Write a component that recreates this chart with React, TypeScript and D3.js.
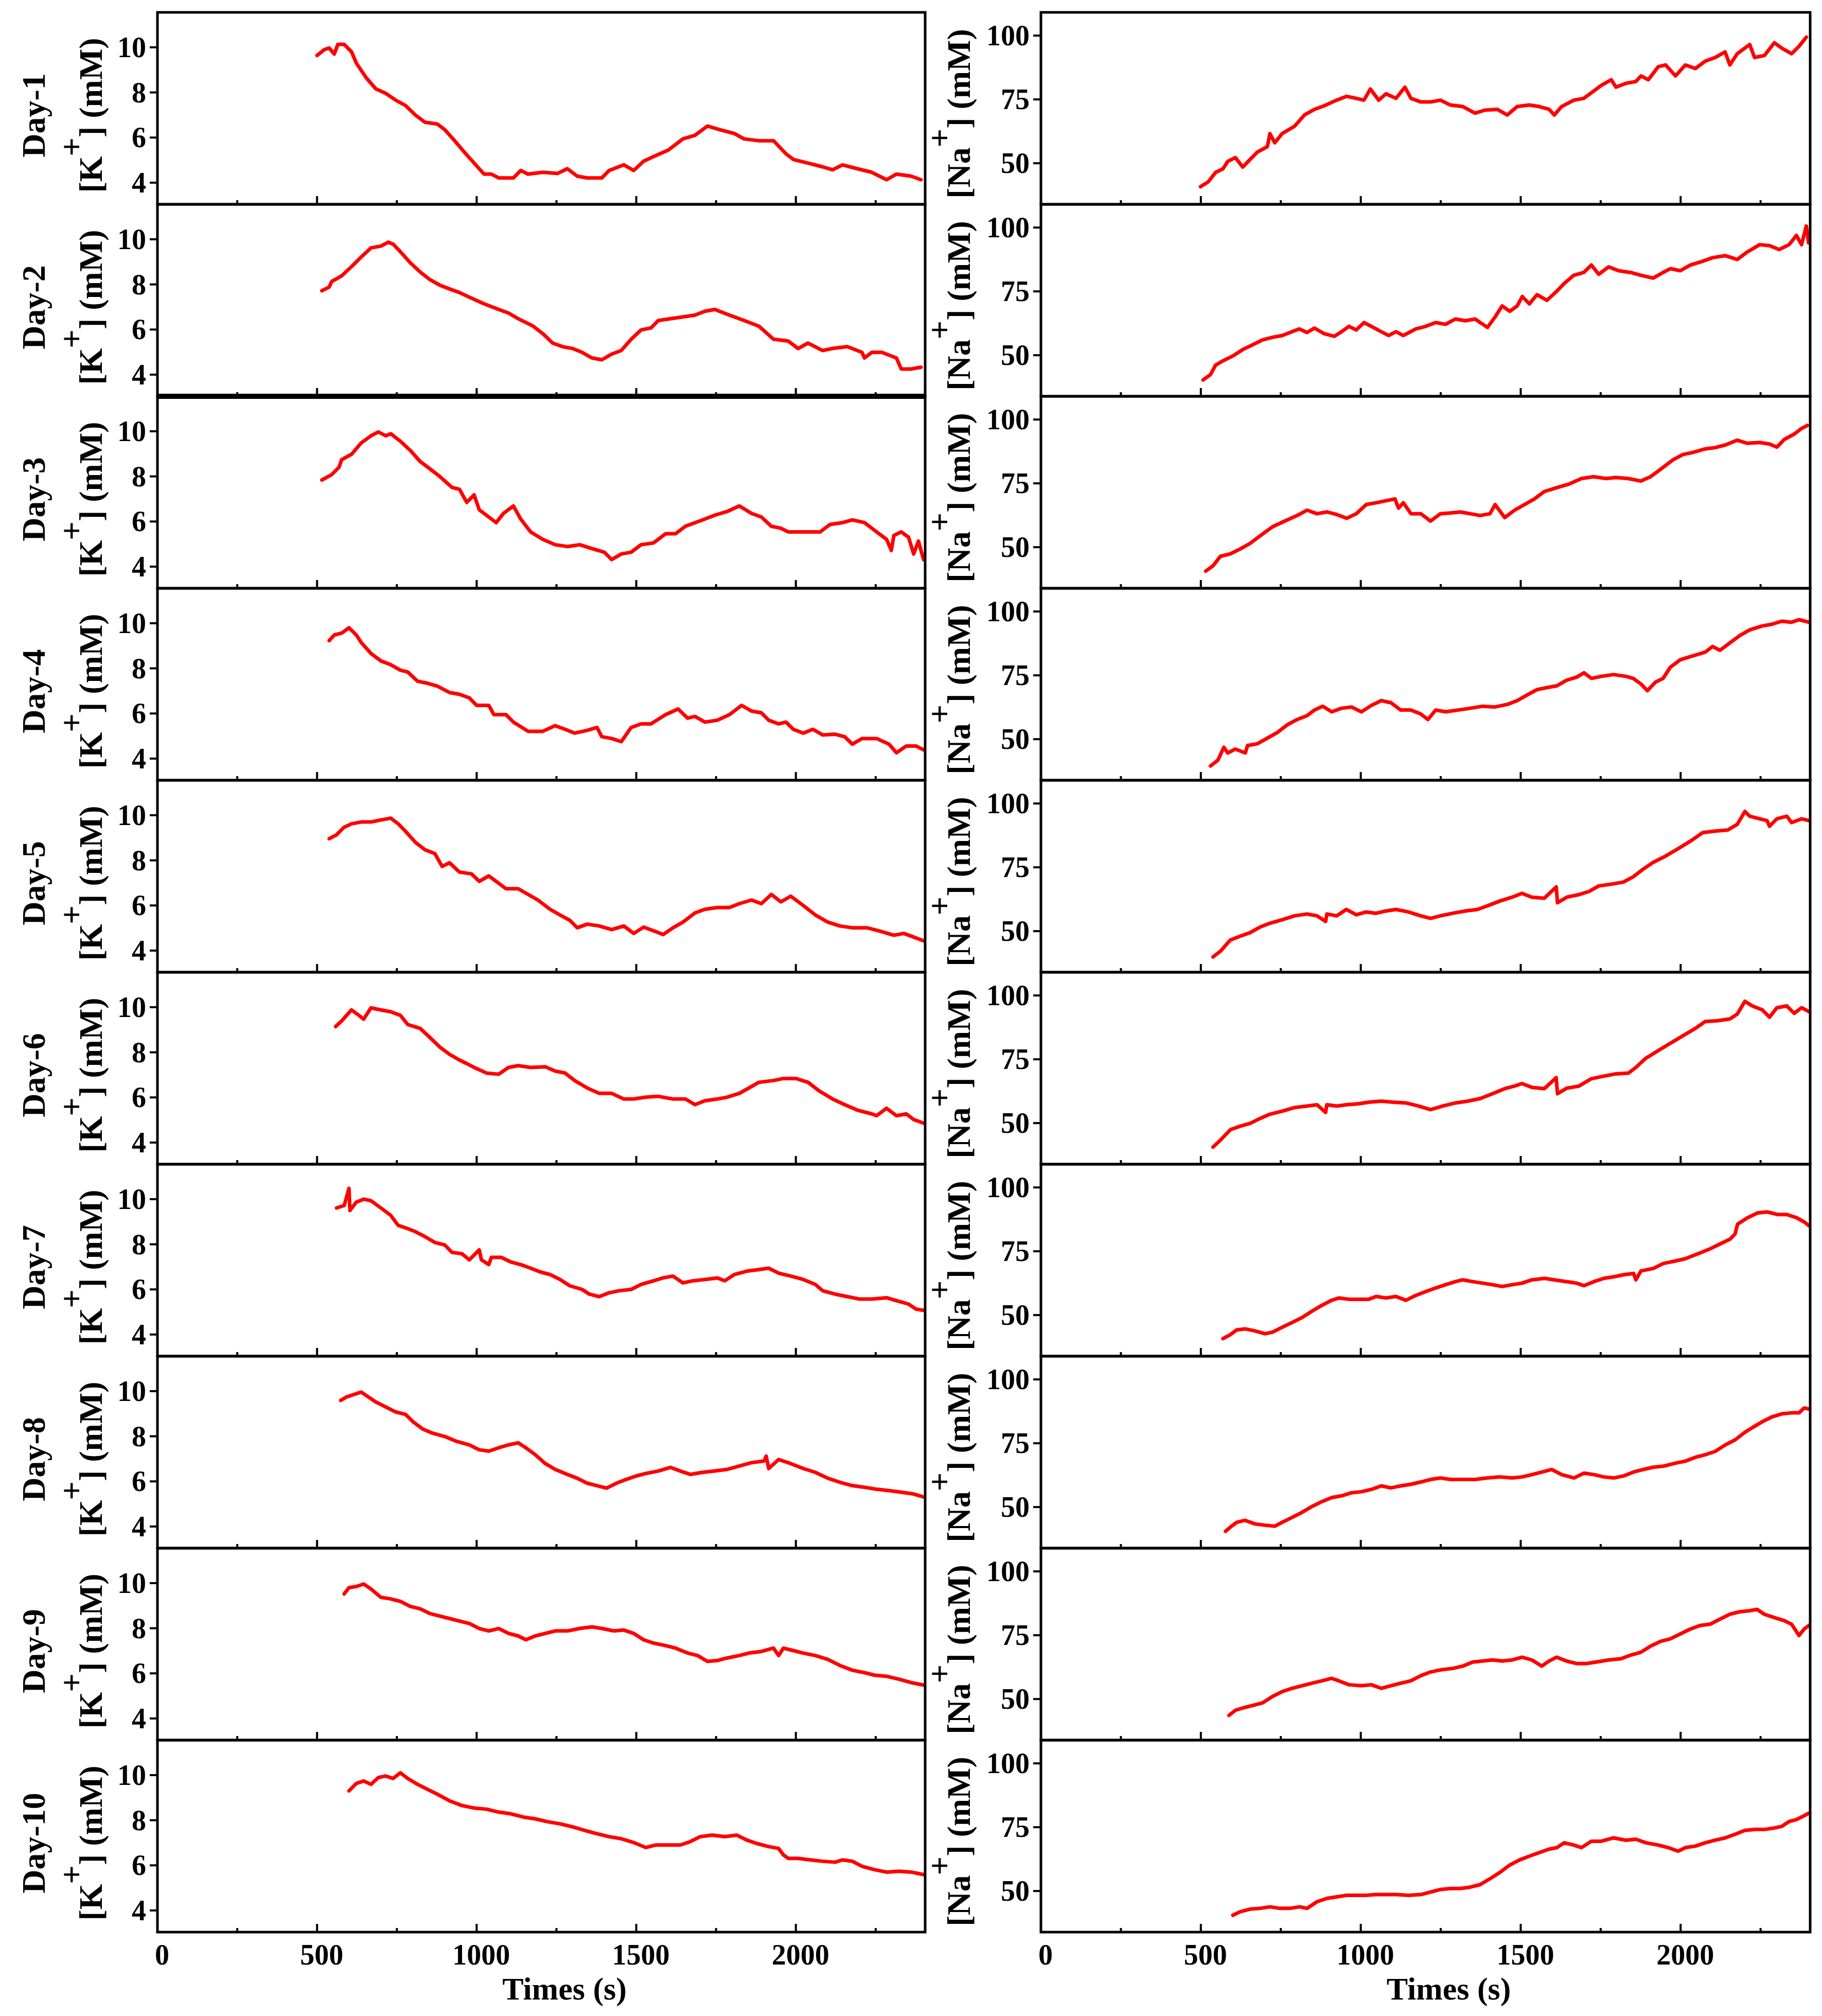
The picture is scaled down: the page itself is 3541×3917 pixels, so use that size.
import React from 'react';
import * as d3 from 'd3';

type Pt = [number, number];

const DAYS = ['Day-1', 'Day-2', 'Day-3', 'Day-4', 'Day-5', 'Day-6', 'Day-7', 'Day-8', 'Day-9', 'Day-10'];
const X_TICKS = [0, 500, 1000, 1500, 2000];
const X_MINOR = [250, 750, 1250, 1750, 2250];
const K_TICKS = [4, 6, 8, 10];
const NA_TICKS = [50, 75, 100];
const X_TITLE = 'Times (s)';

// ---------- [K+] series (time s, mM) ----------
const K1: Pt[] = [[500,9.64],[523,9.9],[538,9.97],[554,9.7],[565,10.13],[585,10.13],[608,9.8],[623,9.3],[654,8.65],[684,8.16],[715,7.96],[746,7.66],[777,7.42],[808,7.0],[838,6.68],[877,6.6],[900,6.35],[931,5.86],[961,5.36],[992,4.87],[1023,4.38],[1046,4.38],[1069,4.21],[1115,4.21],[1138,4.54],[1161,4.38],[1207,4.46],[1254,4.41],[1284,4.62],[1315,4.29],[1346,4.21],[1392,4.21],[1415,4.54],[1461,4.79],[1492,4.54],[1523,4.95],[1561,5.2],[1600,5.44],[1646,5.94],[1684,6.1],[1723,6.51],[1761,6.35],[1807,6.18],[1838,5.94],[1884,5.86],[1930,5.86],[1969,5.28],[1992,5.03],[2038,4.87],[2084,4.7],[2115,4.57],[2146,4.79],[2192,4.62],[2238,4.46],[2284,4.13],[2315,4.38],[2361,4.29],[2392,4.13]];
const K2: Pt[] = [[515,7.72],[538,7.88],[546,8.13],[577,8.38],[608,8.79],[638,9.21],[669,9.62],[700,9.7],[723,9.87],[738,9.79],[761,9.45],[792,8.96],[823,8.55],[854,8.21],[884,7.97],[915,7.8],[946,7.64],[984,7.39],[1023,7.14],[1069,6.89],[1100,6.73],[1130,6.48],[1177,6.15],[1207,5.82],[1238,5.4],[1269,5.24],[1300,5.16],[1330,4.99],[1361,4.74],[1392,4.66],[1423,4.91],[1453,5.07],[1484,5.57],[1515,5.98],[1546,6.07],[1569,6.4],[1607,6.48],[1646,6.56],[1684,6.64],[1715,6.81],[1746,6.89],[1792,6.64],[1838,6.4],[1884,6.15],[1930,5.57],[1976,5.49],[2007,5.16],[2038,5.4],[2084,5.07],[2115,5.16],[2161,5.24],[2207,4.99],[2215,4.74],[2238,4.99],[2269,4.99],[2315,4.74],[2330,4.25],[2361,4.25],[2392,4.33]];
const K3: Pt[] = [[515,7.84],[546,8.08],[569,8.41],[577,8.74],[608,8.98],[638,9.48],[669,9.8],[692,9.97],[715,9.8],[731,9.89],[761,9.56],[792,9.15],[823,8.66],[854,8.33],[884,8.0],[923,7.51],[946,7.43],[969,6.85],[992,7.18],[1008,6.52],[1038,6.2],[1061,5.95],[1084,6.36],[1115,6.69],[1138,6.11],[1169,5.54],[1207,5.21],[1246,4.97],[1284,4.89],[1323,4.97],[1361,4.8],[1400,4.64],[1423,4.31],[1453,4.56],[1484,4.64],[1515,4.97],[1554,5.05],[1592,5.46],[1623,5.46],[1654,5.79],[1700,6.03],[1746,6.28],[1784,6.44],[1823,6.69],[1861,6.36],[1892,6.2],[1923,5.79],[1953,5.7],[1976,5.54],[2023,5.54],[2076,5.54],[2107,5.87],[2146,5.95],[2177,6.07],[2215,5.95],[2253,5.54],[2284,5.21],[2299,4.72],[2307,5.38],[2330,5.54],[2353,5.3],[2369,4.56],[2384,5.13],[2400,4.31]];
const K4: Pt[] = [[538,9.23],[554,9.48],[577,9.56],[600,9.8],[623,9.48],[638,9.15],[669,8.66],[700,8.33],[731,8.16],[761,7.92],[784,7.84],[815,7.43],[846,7.34],[877,7.21],[915,6.93],[946,6.85],[977,6.69],[1000,6.36],[1038,6.36],[1054,5.95],[1092,5.95],[1115,5.62],[1161,5.21],[1207,5.21],[1246,5.46],[1277,5.3],[1307,5.13],[1346,5.25],[1377,5.38],[1392,4.97],[1423,4.89],[1453,4.75],[1484,5.38],[1515,5.54],[1546,5.54],[1592,5.95],[1631,6.2],[1661,5.79],[1684,5.87],[1715,5.62],[1754,5.7],[1792,5.95],[1830,6.36],[1861,6.11],[1892,6.03],[1915,5.7],[1946,5.54],[1969,5.62],[1992,5.3],[2023,5.13],[2053,5.3],[2084,5.05],[2123,5.08],[2153,4.97],[2177,4.64],[2207,4.89],[2253,4.89],[2292,4.64],[2315,4.26],[2346,4.56],[2376,4.56],[2400,4.39]];
const K5: Pt[] = [[538,8.96],[561,9.13],[584,9.46],[608,9.62],[638,9.7],[669,9.7],[700,9.79],[731,9.87],[754,9.62],[777,9.29],[808,8.8],[838,8.47],[869,8.3],[892,7.73],[915,7.89],[946,7.48],[984,7.4],[1008,7.07],[1038,7.31],[1061,7.07],[1092,6.74],[1130,6.74],[1161,6.49],[1192,6.24],[1230,5.83],[1261,5.58],[1292,5.34],[1315,5.01],[1346,5.17],[1384,5.09],[1423,4.93],[1461,5.09],[1492,4.76],[1523,5.04],[1561,4.84],[1584,4.71],[1615,5.01],[1646,5.26],[1684,5.67],[1715,5.83],[1754,5.91],[1792,5.91],[1823,6.08],[1861,6.24],[1892,6.08],[1923,6.49],[1953,6.16],[1984,6.41],[2023,6.0],[2061,5.58],[2100,5.26],[2138,5.09],[2177,5.01],[2223,5.01],[2269,4.84],[2307,4.68],[2338,4.76],[2369,4.6],[2400,4.43]];
const K6: Pt[] = [[558,9.14],[577,9.39],[608,9.88],[631,9.64],[646,9.47],[669,9.97],[700,9.88],[731,9.8],[761,9.64],[784,9.23],[823,9.06],[854,8.65],[884,8.24],[915,7.91],[946,7.66],[969,7.5],[992,7.33],[1031,7.08],[1069,7.03],[1100,7.33],[1130,7.41],[1169,7.33],[1215,7.36],[1246,7.17],[1277,7.08],[1307,6.75],[1346,6.42],[1384,6.18],[1423,6.18],[1461,5.93],[1492,5.93],[1530,6.01],[1569,6.05],[1615,5.93],[1654,5.93],[1684,5.68],[1715,5.85],[1754,5.93],[1784,6.01],[1823,6.18],[1853,6.42],[1884,6.67],[1930,6.75],[1961,6.84],[2000,6.84],[2038,6.67],[2076,6.26],[2115,5.93],[2153,5.68],[2192,5.44],[2238,5.27],[2253,5.19],[2284,5.52],[2315,5.19],[2346,5.27],[2369,5.02],[2400,4.86]];
const K7: Pt[] = [[561,9.61],[585,9.72],[600,10.48],[603,9.5],[623,9.87],[646,10.0],[669,9.93],[700,9.61],[731,9.28],[754,8.84],[777,8.73],[808,8.56],[838,8.34],[869,8.08],[900,7.97],[923,7.64],[954,7.58],[977,7.31],[1008,7.75],[1015,7.31],[1038,7.1],[1046,7.42],[1077,7.42],[1108,7.21],[1138,7.1],[1169,6.94],[1200,6.77],[1230,6.66],[1261,6.44],[1292,6.16],[1330,6.0],[1353,5.79],[1384,5.68],[1415,5.85],[1446,5.94],[1484,6.0],[1515,6.22],[1554,6.38],[1584,6.51],[1615,6.59],[1646,6.29],[1677,6.38],[1715,6.44],[1754,6.51],[1777,6.38],[1807,6.66],[1846,6.81],[1884,6.88],[1915,6.94],[1946,6.72],[1984,6.59],[2023,6.44],[2061,6.22],[2084,5.94],[2123,5.79],[2161,5.68],[2200,5.57],[2238,5.57],[2284,5.63],[2315,5.5],[2353,5.35],[2376,5.13],[2400,5.07]];
const K8: Pt[] = [[574,9.59],[592,9.74],[615,9.85],[638,9.96],[661,9.74],[684,9.52],[715,9.3],[746,9.08],[777,8.97],[800,8.65],[831,8.32],[861,8.14],[900,7.99],[938,7.77],[977,7.62],[1008,7.4],[1038,7.34],[1069,7.49],[1100,7.62],[1130,7.71],[1154,7.49],[1184,7.18],[1215,6.79],[1246,6.53],[1284,6.31],[1315,6.14],[1346,5.92],[1377,5.81],[1407,5.7],[1438,5.92],[1469,6.09],[1500,6.24],[1530,6.35],[1569,6.46],[1607,6.62],[1638,6.46],[1669,6.31],[1707,6.4],[1746,6.46],[1784,6.53],[1823,6.68],[1861,6.83],[1900,6.9],[1907,7.12],[1915,6.57],[1946,6.97],[1984,6.79],[2023,6.57],[2061,6.4],[2100,6.14],[2138,5.96],[2177,5.81],[2215,5.74],[2253,5.65],[2292,5.59],[2330,5.52],[2369,5.44],[2400,5.31]];
const K9: Pt[] = [[585,9.52],[600,9.8],[623,9.85],[646,9.96],[669,9.74],[700,9.37],[731,9.3],[761,9.19],[792,8.97],[823,8.86],[854,8.65],[884,8.54],[915,8.43],[946,8.32],[977,8.21],[1008,7.99],[1038,7.88],[1069,7.99],[1100,7.77],[1130,7.66],[1154,7.49],[1184,7.66],[1215,7.77],[1246,7.88],[1284,7.88],[1323,7.99],[1361,8.06],[1392,7.99],[1430,7.88],[1461,7.92],[1492,7.77],[1523,7.49],[1554,7.34],[1592,7.23],[1623,7.12],[1661,6.9],[1692,6.79],[1723,6.53],[1754,6.57],[1784,6.68],[1823,6.79],[1853,6.9],[1892,6.97],[1930,7.12],[1946,6.79],[1961,7.12],[1992,7.01],[2023,6.9],[2061,6.79],[2100,6.62],[2138,6.35],[2177,6.14],[2215,6.03],[2246,5.92],[2284,5.87],[2323,5.74],[2361,5.59],[2400,5.48]];
const K10: Pt[] = [[600,9.3],[623,9.63],[646,9.74],[669,9.59],[692,9.89],[715,9.96],[738,9.85],[761,10.1],[784,9.85],[815,9.59],[846,9.37],[877,9.15],[915,8.86],[954,8.65],[992,8.54],[1031,8.49],[1069,8.36],[1108,8.28],[1146,8.14],[1184,8.06],[1223,7.93],[1261,7.84],[1300,7.71],[1338,7.55],[1377,7.4],[1415,7.27],[1453,7.18],[1492,7.01],[1530,6.79],[1561,6.9],[1600,6.9],[1638,6.9],[1669,7.05],[1700,7.27],[1738,7.34],[1777,7.27],[1815,7.34],[1846,7.12],[1877,6.97],[1915,6.83],[1946,6.75],[1961,6.46],[1976,6.31],[2007,6.31],[2046,6.24],[2084,6.18],[2123,6.14],[2146,6.24],[2177,6.18],[2207,5.96],[2246,5.81],[2284,5.7],[2323,5.74],[2361,5.7],[2400,5.59]];

// ---------- [Na+] series (time s, mM) ----------
const NA1: Pt[] = [[499,40.8],[523,42.7],[546,46.4],[569,47.8],[584,50.7],[608,52.2],[631,48.5],[654,51.5],[677,54.4],[708,56.5],[716,61.6],[731,58.0],[754,61.6],[793,64.5],[824,68.9],[855,71.1],[886,72.5],[917,74.3],[955,76.2],[986,75.4],[1010,74.7],[1030,79.1],[1056,74.7],[1079,77.2],[1110,75.4],[1138,79.8],[1157,75.4],[1188,74.0],[1218,74.0],[1249,74.7],[1280,72.8],[1319,72.2],[1357,69.6],[1388,70.8],[1427,71.1],[1458,68.9],[1489,72.2],[1527,72.8],[1558,72.2],[1589,71.1],[1605,68.9],[1628,72.2],[1666,74.7],[1697,75.4],[1721,77.6],[1752,80.5],[1783,82.7],[1798,79.8],[1829,81.3],[1860,82.0],[1876,84.2],[1899,82.7],[1930,87.8],[1953,88.5],[1984,84.2],[2015,88.5],[2046,87.1],[2077,90.0],[2108,91.4],[2139,93.6],[2154,88.5],[2177,92.9],[2216,96.5],[2231,91.4],[2262,92.2],[2293,97.2],[2316,95.1],[2347,92.9],[2370,95.8],[2393,99.4]];
const NA2: Pt[] = [[507,40.3],[530,42.4],[546,46.1],[569,47.8],[600,49.7],[631,52.2],[662,54.1],[693,56.0],[724,57.0],[754,57.7],[785,59.2],[808,60.3],[832,58.9],[855,60.6],[886,58.4],[917,57.4],[940,59.2],[963,61.3],[986,59.9],[1010,62.8],[1033,61.3],[1064,59.2],[1087,57.7],[1110,59.2],[1133,57.7],[1172,60.3],[1203,61.3],[1234,62.8],[1265,62.1],[1296,64.2],[1327,63.5],[1358,64.2],[1373,62.8],[1396,60.9],[1420,65.0],[1442,69.3],[1466,67.2],[1489,69.3],[1505,73.0],[1527,70.1],[1551,73.7],[1582,71.5],[1613,75.1],[1636,78.1],[1666,81.3],[1697,82.4],[1721,85.3],[1744,81.7],[1775,84.6],[1806,83.1],[1844,82.4],[1876,81.3],[1914,80.2],[1945,82.4],[1968,83.9],[1999,83.1],[2030,85.3],[2069,86.8],[2100,88.2],[2139,89.0],[2177,87.5],[2208,90.4],[2247,93.3],[2278,92.9],[2308,91.4],[2339,93.3],[2362,96.9],[2378,93.3],[2393,100.6],[2400,94.0]];
const NA3: Pt[] = [[515,40.6],[538,42.7],[561,46.4],[592,47.4],[623,49.3],[654,51.5],[685,54.4],[724,58.0],[762,60.2],[801,62.4],[832,64.5],[863,63.1],[894,63.8],[925,62.8],[956,61.3],[986,63.1],[1017,66.7],[1048,67.4],[1079,68.2],[1107,68.9],[1118,65.3],[1133,67.4],[1157,63.1],[1188,63.1],[1218,60.2],[1249,63.1],[1280,63.4],[1311,63.8],[1342,63.1],[1373,62.4],[1404,63.1],[1420,66.7],[1450,61.6],[1481,64.5],[1512,66.7],[1543,68.9],[1574,71.8],[1612,73.3],[1651,74.7],[1690,76.9],[1728,77.6],[1767,76.9],[1798,77.3],[1836,76.9],[1875,75.9],[1906,77.6],[1937,80.5],[1976,84.2],[2007,86.3],[2038,87.1],[2077,88.5],[2108,89.0],[2139,90.0],[2177,91.9],[2208,90.7],[2247,91.0],[2278,90.4],[2301,89.2],[2324,92.2],[2355,94.3],[2378,96.5],[2396,97.7]];
const NA4: Pt[] = [[530,39.5],[553,41.7],[572,46.8],[584,44.6],[608,46.1],[639,44.6],[646,47.5],[677,48.2],[708,50.4],[739,52.6],[770,55.6],[801,57.7],[832,59.2],[855,61.4],[881,62.9],[909,60.7],[940,62.1],[971,62.6],[1002,60.7],[1033,63.2],[1064,65.1],[1094,64.3],[1125,61.4],[1156,61.4],[1187,59.9],[1210,57.7],[1234,61.4],[1265,60.7],[1304,61.4],[1342,62.1],[1381,62.9],[1419,62.6],[1458,63.6],[1489,65.1],[1520,67.3],[1551,69.4],[1582,70.2],[1613,70.9],[1644,73.1],[1675,74.3],[1698,76.0],[1721,73.8],[1752,74.6],[1790,75.3],[1829,74.6],[1852,73.8],[1876,71.6],[1896,69.0],[1922,72.4],[1945,73.8],[1968,78.2],[1999,81.1],[2038,82.6],[2077,84.1],[2100,86.3],[2123,84.8],[2154,87.7],[2185,90.6],[2216,92.8],[2254,94.3],[2285,95.0],[2316,96.2],[2347,95.8],[2370,96.8],[2401,95.8]];
const NA5: Pt[] = [[538,39.9],[561,42.1],[592,46.5],[623,48.0],[654,49.4],[685,51.6],[716,53.1],[755,54.5],[793,56.0],[832,56.7],[863,56.0],[890,53.8],[894,56.7],[925,56.0],[955,58.5],[986,56.4],[1017,57.5],[1048,57.0],[1079,57.9],[1110,58.5],[1149,57.5],[1187,56.0],[1218,55.0],[1249,56.0],[1288,57.0],[1327,57.9],[1365,58.5],[1396,59.9],[1435,61.8],[1473,63.3],[1504,64.8],[1535,63.3],[1574,62.9],[1611,67.3],[1615,61.1],[1644,63.3],[1682,64.3],[1713,65.5],[1744,67.7],[1783,68.4],[1821,69.2],[1852,71.3],[1883,74.3],[1914,76.9],[1953,79.4],[1992,82.3],[2030,85.2],[2069,88.6],[2108,89.2],[2147,89.6],[2177,91.8],[2201,96.9],[2216,95.0],[2247,94.0],[2270,93.3],[2278,91.1],[2301,94.0],[2332,95.0],[2347,92.5],[2378,94.0],[2401,93.3]];
const NA6: Pt[] = [[538,40.6],[561,43.3],[592,47.4],[623,48.8],[654,49.9],[685,51.8],[716,53.5],[755,54.7],[793,56.1],[832,56.7],[863,57.2],[890,54.2],[894,57.2],[925,56.7],[955,57.2],[994,57.6],[1025,58.2],[1064,58.6],[1102,58.2],[1141,57.9],[1180,56.7],[1218,55.3],[1257,56.7],[1296,57.9],[1334,58.6],[1373,59.6],[1412,61.5],[1450,63.5],[1481,64.5],[1504,65.5],[1535,64.0],[1574,63.5],[1611,67.8],[1615,61.5],[1644,63.7],[1682,64.5],[1721,67.4],[1760,68.4],[1798,69.3],[1837,69.6],[1860,71.8],[1891,75.4],[1930,78.4],[1968,81.3],[2007,84.2],[2046,87.1],[2077,89.8],[2115,90.1],[2154,90.8],[2177,92.7],[2201,97.7],[2224,95.9],[2255,94.4],[2278,91.5],[2301,95.2],[2332,95.9],[2355,93.0],[2378,95.2],[2401,93.7]];
const NA7: Pt[] = [[569,40.8],[592,42.3],[612,44.2],[638,44.6],[669,43.8],[700,42.7],[724,43.3],[754,45.2],[785,47.1],[816,49.0],[847,51.5],[878,53.8],[909,55.8],[932,56.7],[963,56.2],[994,56.2],[1025,56.2],[1048,57.3],[1079,56.7],[1110,57.3],[1141,55.8],[1172,57.7],[1203,59.2],[1234,60.6],[1265,61.9],[1296,63.1],[1319,63.8],[1350,63.1],[1381,62.5],[1412,61.9],[1442,61.2],[1473,61.9],[1504,62.5],[1535,63.8],[1574,64.4],[1605,63.8],[1644,63.1],[1675,62.5],[1698,61.5],[1729,63.1],[1760,64.4],[1791,65.0],[1822,65.8],[1853,66.3],[1860,63.8],[1876,67.3],[1915,68.3],[1946,70.2],[1984,71.2],[2015,72.1],[2054,74.0],[2093,76.0],[2124,77.9],[2155,79.8],[2170,81.7],[2178,85.6],[2209,88.1],[2240,90.0],[2271,90.4],[2302,89.4],[2332,89.4],[2363,88.1],[2386,86.5],[2401,85.0]];
const NA8: Pt[] = [[577,40.5],[592,42.1],[612,44.0],[638,44.8],[669,43.4],[700,42.9],[731,42.5],[754,44.0],[785,45.9],[816,47.9],[847,50.2],[878,52.1],[909,53.7],[940,54.4],[971,55.6],[1002,56.0],[1033,56.9],[1064,58.3],[1094,57.5],[1125,58.3],[1156,58.9],[1187,59.8],[1218,60.8],[1249,61.4],[1280,60.8],[1319,60.8],[1358,60.8],[1396,61.4],[1435,61.8],[1473,61.4],[1504,61.8],[1535,62.7],[1566,63.7],[1597,64.7],[1628,62.7],[1667,61.4],[1698,63.3],[1729,62.7],[1760,61.8],[1791,61.4],[1822,62.2],[1852,63.7],[1883,64.7],[1914,65.6],[1945,66.0],[1984,67.2],[2015,68.0],[2046,69.5],[2077,70.5],[2108,71.8],[2139,74.3],[2170,76.3],[2200,79.2],[2224,81.1],[2255,83.4],[2285,85.3],[2316,86.5],[2347,86.9],[2370,86.9],[2386,88.8],[2401,88.4]];
const NA9: Pt[] = [[588,43.6],[608,45.6],[631,46.5],[662,47.5],[693,48.5],[724,51.0],[754,52.9],[785,54.2],[816,55.2],[847,56.2],[878,57.1],[909,58.1],[932,57.1],[963,55.6],[1002,55.2],[1033,55.6],[1064,54.2],[1094,55.2],[1125,56.2],[1156,57.1],[1187,59.1],[1218,60.6],[1249,61.4],[1288,62.0],[1319,62.9],[1350,64.5],[1381,64.9],[1412,65.3],[1442,64.9],[1473,65.3],[1504,66.4],[1535,65.3],[1566,62.9],[1589,64.9],[1612,66.4],[1643,64.9],[1674,63.9],[1705,63.9],[1736,64.5],[1775,65.3],[1814,65.8],[1844,67.2],[1875,68.3],[1906,70.7],[1937,72.6],[1968,73.6],[1999,75.5],[2030,77.4],[2061,78.8],[2092,79.3],[2123,81.3],[2154,83.2],[2185,84.2],[2216,84.6],[2239,85.1],[2262,83.2],[2293,81.9],[2324,80.7],[2347,79.3],[2370,74.9],[2386,77.4],[2401,78.8]];
const NA10: Pt[] = [[600,40.5],[623,41.9],[654,42.9],[685,43.2],[716,43.8],[747,43.2],[778,43.2],[809,43.8],[832,43.2],[863,45.8],[894,47.1],[925,47.7],[956,48.3],[986,48.3],[1017,48.3],[1048,48.6],[1079,48.6],[1110,48.6],[1149,48.3],[1188,48.6],[1218,49.6],[1249,50.6],[1280,51.0],[1311,51.0],[1342,51.5],[1373,52.5],[1404,54.8],[1435,57.3],[1466,60.2],[1497,62.2],[1528,63.7],[1559,65.1],[1589,66.4],[1613,67.0],[1636,68.9],[1666,68.0],[1690,67.0],[1721,69.5],[1752,69.5],[1790,70.8],[1829,69.9],[1860,70.3],[1891,68.9],[1930,68.0],[1961,67.0],[1992,65.6],[2015,67.0],[2046,67.6],[2077,68.9],[2108,69.9],[2139,70.8],[2170,72.2],[2200,73.7],[2231,74.1],[2262,74.1],[2293,74.7],[2316,75.3],[2339,77.2],[2362,78.0],[2386,79.5],[2401,80.5]];

const K_SERIES = [K1, K2, K3, K4, K5, K6, K7, K8, K9, K10];
const NA_SERIES = [NA1, NA2, NA3, NA4, NA5, NA6, NA7, NA8, NA9, NA10];

// ---------- layout ----------
const W = 3541;
const H = 3917;
const TOP = 24;
const PH = 373;
const LX0 = 306, LX1 = 1798;
const RX0 = 2023, RX1 = 3518;
const X_DOMAIN: [number, number] = [0, 2405];
const K_DOMAIN: [number, number] = [3.04, 11.55];
const NA_DOMAIN: [number, number] = [33.9, 109.1];
const FONT = '"Liberation Serif", "Times New Roman", Times, serif';
const RED = '#ff0000';

function Panel({ i, data, x0, x1, yDomain, yTicks, kind }: {
  i: number; data: Pt[]; x0: number; x1: number; yDomain: [number, number]; yTicks: number[]; kind: 'K' | 'Na';
}) {
  const top = TOP + i * PH;
  const bottom = top + PH;
  const x = d3.scaleLinear().domain(X_DOMAIN).range([x0, x1]);
  const y = d3.scaleLinear().domain(yDomain).range([bottom, top]);
  const line = d3.line<Pt>().x(d => x(d[0])).y(d => y(d[1]));
  const clipId = `clip-${kind}-${i}`;
  const isLast = i === DAYS.length - 1;
  return (
    <g>
      <defs>
        <clipPath id={clipId}>
          <rect x={x0} y={top} width={x1 - x0} height={PH} />
        </clipPath>
      </defs>
      <path d={line(data) || ''} fill="none" stroke={RED} strokeWidth={7} strokeLinejoin="round" strokeLinecap="round" clipPath={`url(#${clipId})`} />
      {X_TICKS.map(t => (
        <line key={`M${t}`} x1={x(t)} x2={x(t)} y1={bottom} y2={bottom - 16} stroke="#000" strokeWidth={4} />
      ))}
      {X_MINOR.map(t => (
        <line key={`m${t}`} x1={x(t)} x2={x(t)} y1={bottom} y2={bottom - 8} stroke="#000" strokeWidth={4} />
      ))}
      {yTicks.map(v => (
        <g key={`y${v}`}>
          <line x1={x0 - 15} x2={x0} y1={y(v)} y2={y(v)} stroke="#000" strokeWidth={4} />
          <text x={x0 - 22} y={y(v) + 19} textAnchor="end" fontFamily={FONT} fontWeight="bold" fontSize={56}>{v}</text>
        </g>
      ))}
      <rect x={x0} y={top} width={x1 - x0} height={PH} fill="none" stroke="#000" strokeWidth={5} />
      {kind === 'K' && i === 2 && (
        <line x1={x0} x2={x1} y1={top} y2={top} stroke="#000" strokeWidth={10} />
      )}
      {isLast && X_TICKS.map(t => (
        <text key={`xl${t}`} x={x(t) + 9} y={bottom + 63} textAnchor="middle" fontFamily={FONT} fontWeight="bold" fontSize={56}>{t}</text>
      ))}
      {isLast && (
        <text x={(x0 + x1) / 2 + 45} y={bottom + 131} textAnchor="middle" fontFamily={FONT} fontWeight="bold" fontSize={62}>{X_TITLE}</text>
      )}
      {kind === 'K' ? (
        <>
          <text transform={`translate(87,${top + 200}) rotate(-90)`} textAnchor="middle" fontFamily={FONT} fontWeight="bold" fontSize={64}>{DAYS[i]}</text>
          <text transform={`translate(198,${top + 200}) rotate(-90)`} textAnchor="middle" fontFamily={FONT} fontWeight="bold" fontSize={64}>
            [K<tspan dy={-38} fontSize={64}>+</tspan><tspan dy={38}>] (mM)</tspan>
          </text>
        </>
      ) : (
        <text transform={`translate(1885,${top + 197}) rotate(-90)`} textAnchor="middle" fontFamily={FONT} fontWeight="bold" fontSize={64}>
          [Na<tspan dy={-38} fontSize={64}>+</tspan><tspan dy={38}>] (mM)</tspan>
        </text>
      )}
    </g>
  );
}

export default function App() {
  return (
    <svg width={W} height={H} viewBox={`0 0 ${W} ${H}`} style={{ position: 'absolute', left: 0, top: 0, background: '#fff' }}>
      <rect x={0} y={0} width={W} height={H} fill="#fff" />
      {K_SERIES.map((d, i) => (
        <Panel key={`K${i}`} i={i} data={d} x0={LX0} x1={LX1} yDomain={K_DOMAIN} yTicks={K_TICKS} kind="K" />
      ))}
      {NA_SERIES.map((d, i) => (
        <Panel key={`N${i}`} i={i} data={d} x0={RX0} x1={RX1} yDomain={NA_DOMAIN} yTicks={NA_TICKS} kind="Na" />
      ))}
    </svg>
  );
}
